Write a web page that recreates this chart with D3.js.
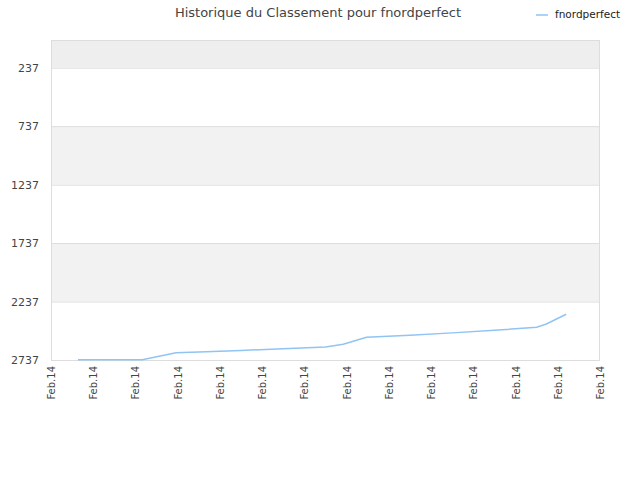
<!DOCTYPE html><html><head><meta charset="utf-8"><script src="https://cdn.jsdelivr.net/npm/d3@7"></script>
<style>body{margin:0;background:#fff}text{font-family:"DejaVu Sans",sans-serif}</style></head><body><svg id="c" width="640" height="480"></svg>
<script>
const tickLabels=["Feb.14","Feb.14","Feb.14","Feb.14","Feb.14","Feb.14","Feb.14","Feb.14","Feb.14","Feb.14","Feb.14","Feb.14","Feb.14","Feb.14"];
const yTicks=[237,737,1237,1737,2237,2737];
const xPos=[0.64,1.2,1.7,2.16,2.96,3.5,4.5,5.5,6.5,6.92,7.47,8.5,9.5,10.5,11.5,11.73,12.2];
const ranks=[2734,2734,2734,2734,2675,2668,2655,2641,2625,2603,2543,2525,2505,2483,2456,2429,2346];
const svg=d3.select("#c");
const L=51,R=600,T=40,B=360;
const x=d3.scaleLinear().domain([0,13]).range([L,R]);
const y=d3.scaleLinear().domain([0,2737]).range([T,B]);
const bands=[[0,237,"#eeeeee"],[237,737,"#ffffff"],[737,1237,"#f2f2f2"],[1237,1737,"#ffffff"],[1737,2237,"#f2f2f2"],[2237,2737,"#ffffff"]];
svg.selectAll("rect.b").data(bands).enter().append("rect").attr("x",L).attr("width",R-L).attr("y",d=>y(d[0])).attr("height",d=>y(d[1])-y(d[0])).attr("fill",d=>d[2]);
svg.selectAll("line.g").data(yTicks).enter().append("line").attr("x1",L).attr("x2",R).attr("y1",d=>y(d)+0.5).attr("y2",d=>y(d)+0.5).attr("stroke","#dddddd");
svg.append("rect").attr("x",L+0.5).attr("y",T+0.5).attr("width",R-L-1).attr("height",B-T).attr("fill","none").attr("stroke","#dddddd");
svg.selectAll("text.y").data(yTicks).enter().append("text").attr("x",L-12).attr("y",d=>y(d)+4).attr("text-anchor","end").attr("font-size",11).attr("fill","#444").text(d=>d);
svg.selectAll("text.x").data(tickLabels).enter().append("text").attr("transform",(d,i)=>`translate(${x(i)+4},${B+6}) rotate(-90)`).attr("text-anchor","end").attr("font-size",10).attr("fill","#444").text(d=>d);
svg.append("path").datum(xPos.map((v,i)=>[v,ranks[i]])).attr("fill","none").attr("stroke","#90c4f4").attr("stroke-width",1.5).attr("d",d3.line().x(d=>x(d[0])).y(d=>y(d[1])));
svg.append("text").attr("x",318).attr("y",17).attr("text-anchor","middle").attr("font-size",13).attr("fill","#444").text("Historique du Classement pour fnordperfect");
svg.append("line").attr("x1",536).attr("x2",548).attr("y1",15).attr("y2",15).attr("stroke","#90c4f4").attr("stroke-width",1.5);
svg.append("text").attr("x",555).attr("y",18).attr("font-size",10.5).attr("fill","#222").text("fnordperfect");
</script></body></html>
